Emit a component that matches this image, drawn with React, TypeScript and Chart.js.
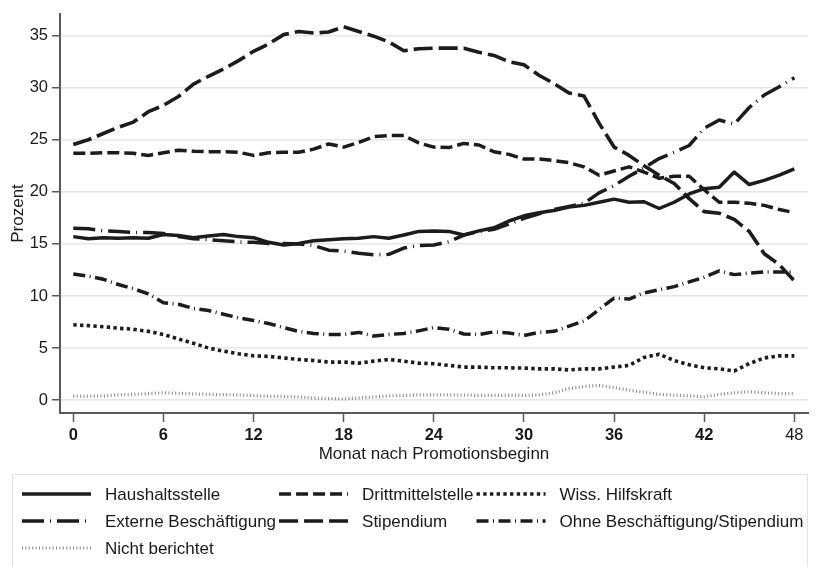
import React, { useEffect, useRef } from "react";
import { Chart, registerables } from "chart.js";

Chart.register(...registerables);

const FONT = "'Liberation Sans', Arial, Helvetica, sans-serif";

const MONTHS = [0, 1, 2, 3, 4, 5, 6, 7, 8, 9, 10, 11, 12, 13, 14, 15, 16, 17, 18, 19, 20, 21, 22, 23, 24, 25, 26, 27, 28, 29, 30, 31, 32, 33, 34, 35, 36, 37, 38, 39, 40, 41, 42, 43, 44, 45, 46, 47, 48];

const HAUSHALT = [15.7, 15.5, 15.6, 15.55, 15.6, 15.55, 15.9, 15.8, 15.6, 15.75, 15.9, 15.7, 15.6, 15.15, 14.9, 15.05, 15.3, 15.4, 15.5, 15.55, 15.7, 15.55, 15.85, 16.2, 16.25, 16.2, 15.85, 16.25, 16.55, 17.2, 17.7, 18.0, 18.2, 18.55, 18.7, 19.0, 19.3, 19.0, 19.05, 18.4, 19.0, 19.8, 20.3, 20.45, 21.9, 20.7, 21.1, 21.6, 22.2];
const DRITTMITTEL = [23.7, 23.7, 23.75, 23.75, 23.7, 23.5, 23.75, 24.0, 23.9, 23.85, 23.85, 23.8, 23.5, 23.75, 23.8, 23.8, 24.1, 24.6, 24.3, 24.75, 25.3, 25.4, 25.4, 24.7, 24.3, 24.25, 24.65, 24.5, 23.85, 23.6, 23.15, 23.15, 23.0, 22.8, 22.4, 21.6, 22.0, 22.4, 21.9, 21.3, 21.5, 21.5, 20.2, 19.0, 19.0, 18.9, 18.7, 18.3, 18.0];
const WISS = [7.23, 7.15, 7.05, 6.9, 6.8, 6.6, 6.3, 5.87, 5.45, 5.0, 4.7, 4.45, 4.25, 4.2, 4.05, 3.9, 3.8, 3.65, 3.65, 3.55, 3.74, 3.9, 3.74, 3.55, 3.49, 3.33, 3.17, 3.17, 3.1, 3.1, 3.07, 3.0, 3.0, 2.9, 3.0, 3.0, 3.17, 3.33, 4.1, 4.4, 3.8, 3.4, 3.1, 3.0, 2.8, 3.5, 4.05, 4.25, 4.25];
const EXTERNE = [16.5, 16.45, 16.25, 16.2, 16.1, 16.1, 16.0, 15.7, 15.5, 15.4, 15.3, 15.2, 15.15, 15.05, 15.05, 15.0, 14.85, 14.4, 14.3, 14.1, 13.95, 14.0, 14.6, 14.85, 14.9, 15.2, 15.85, 16.2, 16.4, 16.9, 17.45, 17.9, 18.3, 18.6, 18.9, 19.9, 20.6, 21.5, 22.3, 23.2, 23.8, 24.45, 26.1, 26.9, 26.5, 28.1, 29.3, 30.1, 30.95];
const STIPENDIUM = [24.55, 25.0, 25.6, 26.2, 26.7, 27.7, 28.3, 29.15, 30.35, 31.1, 31.8, 32.6, 33.5, 34.2, 35.1, 35.4, 35.25, 35.35, 35.85, 35.4, 34.95, 34.4, 33.55, 33.75, 33.8, 33.8, 33.8, 33.4, 33.1, 32.5, 32.2, 31.2, 30.4, 29.5, 29.2, 26.6, 24.3, 23.5, 22.5, 21.6, 20.8, 19.35, 18.1, 17.95, 17.35, 16.2, 14.05, 13.0, 11.45];
const OHNE = [12.1, 11.9, 11.6, 11.1, 10.7, 10.2, 9.35, 9.2, 8.8, 8.6, 8.25, 7.9, 7.65, 7.35, 6.97, 6.6, 6.4, 6.3, 6.3, 6.5, 6.15, 6.3, 6.4, 6.65, 6.97, 6.8, 6.35, 6.3, 6.55, 6.45, 6.2, 6.5, 6.6, 7.1, 7.6, 8.7, 9.8, 9.7, 10.3, 10.6, 10.9, 11.35, 11.8, 12.4, 12.05, 12.2, 12.3, 12.3, 12.3];
const NICHT = [0.38, 0.38, 0.4, 0.5, 0.55, 0.62, 0.7, 0.65, 0.6, 0.55, 0.52, 0.5, 0.42, 0.35, 0.35, 0.3, 0.2, 0.15, 0.1, 0.2, 0.3, 0.4, 0.45, 0.5, 0.5, 0.5, 0.48, 0.45, 0.45, 0.45, 0.45, 0.5, 0.7, 1.1, 1.3, 1.4, 1.2, 0.95, 0.75, 0.55, 0.48, 0.4, 0.32, 0.55, 0.7, 0.8, 0.7, 0.62, 0.62];

const SERIES_NAMES = [
  "Haushaltsstelle",
  "Drittmittelstelle",
  "Wiss. Hilfskraft",
  "Externe Beschäftigung",
  "Stipendium",
  "Ohne Beschäftigung/Stipendium",
  "Nicht berichtet",
];
const SERIES_VALUES = [HAUSHALT, DRITTMITTEL, WISS, EXTERNE, STIPENDIUM, OHNE, NICHT];

const X_TICKS = [0, 6, 12, 18, 24, 30, 36, 42, 48];
const Y_TICKS = [0, 5, 10, 15, 20, 25, 30, 35];
const X_TITLE = "Monat nach Promotionsbeginn";
const Y_TITLE = "Prozent";

const INK = "#1c1c1c";
const STYLES = [
  { dash: [], width: 3.5, color: INK },
  { dash: [12, 5], width: 3.5, color: INK },
  { dash: [3.4, 3.3], width: 3.6, color: INK },
  { dash: [22, 6, 1, 6], width: 3.5, color: INK },
  { dash: [19, 6], width: 3.6, color: INK },
  { dash: [12, 4.5, 1, 4.5], width: 3.5, color: INK },
  { dash: [1, 2.4], width: 3.2, color: "#8a8a8a" },
];

const legendPlugin = {
  id: "gridLegend",
  afterDraw(chart: any) {
    const ctx = chart.ctx as CanvasRenderingContext2D;
    const ds = chart.data.datasets;
    ctx.save();
    ctx.strokeStyle = "#e2e2e2";
    ctx.lineWidth = 1;
    ctx.strokeRect(12.5, 474.5, 795, 110);
    ctx.font = `17px ${FONT}`;
    ctx.textBaseline = "middle";
    ctx.textAlign = "left";
    ctx.fillStyle = "#1a1a1a";
    const cols = 3;
    const keyLen = 69;
    const keyGap = 14;
    const colGap = 3;
    const rowY = [494, 521, 548];
    const colW: number[] = [0, 0, 0];
    ds.forEach((d: any, i: number) => {
      const c = i % cols;
      colW[c] = Math.max(colW[c], ctx.measureText(d.label).width);
    });
    const keyX: number[] = [22];
    for (let c = 1; c < cols; c++) keyX[c] = keyX[c - 1] + keyLen + keyGap + colW[c - 1] + colGap;
    ds.forEach((d: any, i: number) => {
      const c = i % cols;
      const r = Math.floor(i / cols);
      const y = rowY[r];
      ctx.beginPath();
      ctx.setLineDash(d.borderDash || []);
      ctx.lineWidth = d.borderWidth;
      ctx.strokeStyle = d.borderColor;
      ctx.lineCap = "butt";
      ctx.moveTo(keyX[c], y);
      ctx.lineTo(keyX[c] + keyLen, y);
      ctx.stroke();
      ctx.setLineDash([]);
      ctx.fillText(d.label, keyX[c] + keyLen + keyGap, y + 1);
    });
    ctx.restore();
  },
};

export default function App() {
  const ref = useRef<HTMLCanvasElement | null>(null);
  useEffect(() => {
    if (!ref.current) return;
    const datasets = SERIES_NAMES.map((name, i) => ({
      label: name,
      data: MONTHS.map((m, j) => ({ x: m, y: SERIES_VALUES[i][j] })),
      borderColor: STYLES[i].color,
      borderWidth: STYLES[i].width,
      borderDash: STYLES[i].dash,
      borderCapStyle: "butt" as const,
      borderJoinStyle: "round" as const,
      pointRadius: 0,
      fill: false,
      tension: 0,
    }));
    const chart = new Chart(ref.current, {
      type: "line",
      data: { datasets },
      plugins: [legendPlugin],
      options: {
        responsive: false,
        animation: false,
        devicePixelRatio: 1,
        layout: { padding: { top: 10, right: 10, left: 0, bottom: 94 } },
        plugins: { legend: { display: false }, tooltip: { enabled: false } },
        scales: {
          x: {
            type: "linear",
            min: -0.8855,
            max: 48.91,
            afterBuildTicks: (s: any) => {
              s.ticks = X_TICKS.map((v) => ({ value: v }));
            },
            afterFit: (s: any) => {
              s.height = 60;
            },
            border: { display: true, color: "#5a5a5a", width: 2 },
            grid: { drawOnChartArea: false, drawTicks: true, tickLength: 9, tickColor: "#5a5a5a", tickWidth: 1.5 },
            ticks: {
              autoSkip: false,
              maxRotation: 0,
              padding: 4,
              color: "#1a1a1a",
              font: (c: any) => ({ family: FONT, size: 16.5, weight: c.tick && c.tick.value === 48 ? "normal" : "bold" }),
              callback: (v: any) => String(v),
            },
            title: { display: true, text: X_TITLE, color: "#1a1a1a", font: { family: FONT, size: 17 }, padding: { top: 0, bottom: 8 } },
          },
          y: {
            type: "linear",
            min: -1.24,
            max: 37.09,
            afterBuildTicks: (s: any) => {
              s.ticks = Y_TICKS.map((v) => ({ value: v }));
            },
            afterFit: (s: any) => {
              s.width = 60;
            },
            border: { display: true, color: "#5a5a5a", width: 2 },
            grid: { color: "#e6e6e6", lineWidth: 1.5, tickColor: "#5a5a5a", tickLength: 8, tickWidth: 1.5 },
            ticks: { padding: 4, color: "#1a1a1a", font: { family: FONT, size: 16.5 }, callback: (v: any) => String(v) },
            title: { display: true, text: Y_TITLE, color: "#1a1a1a", font: { family: FONT, size: 17 }, padding: { top: 8, bottom: 0 } },
          },
        },
      },
    } as any);
    return () => chart.destroy();
  }, []);
  return (
    <div style={{ position: "fixed", left: 0, top: 0, width: 818, height: 567, background: "#fff" }}>
      <canvas ref={ref} width={818} height={567} style={{ display: "block", width: 818, height: 567 }} />
    </div>
  );
}
